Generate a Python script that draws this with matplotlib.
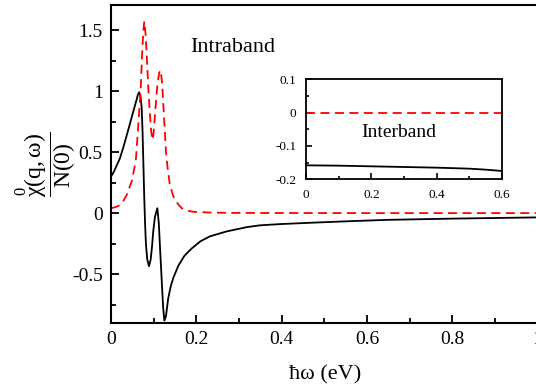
import numpy as np
import matplotlib.pyplot as plt
from matplotlib.ticker import MultipleLocator

# serif font everywhere, mathtext kept upright
plt.rcParams['font.family'] = 'Liberation Serif'
plt.rcParams['mathtext.fontset'] = 'custom'
plt.rcParams['mathtext.rm'] = 'Liberation Serif'
plt.rcParams['mathtext.it'] = 'Liberation Serif'
plt.rcParams['mathtext.bf'] = 'Liberation Serif'

re_w = [0.0, 0.007, 0.0133, 0.021, 0.029, 0.037, 0.045, 0.052, 0.060, 0.063,
        0.066, 0.069, 0.072, 0.074, 0.076, 0.078, 0.080, 0.082, 0.085, 0.089,
        0.093, 0.096, 0.099, 0.103, 0.1086, 0.112, 0.115, 0.119, 0.122, 0.125,
        0.129, 0.134, 0.140, 0.146, 0.158, 0.172, 0.189, 0.21, 0.232, 0.271,
        0.318, 0.349, 0.396, 0.474, 0.56, 0.65, 0.8, 1.0]
re_chi = [0.30, 0.34, 0.39, 0.45, 0.54, 0.64, 0.74, 0.83, 0.93, 0.97,
          0.99, 0.96, 0.86, 0.66, 0.39, 0.12, -0.10, -0.26, -0.38, -0.435,
          -0.38, -0.28, -0.15, -0.03, 0.04, -0.08, -0.29, -0.56, -0.76, -0.88,
          -0.84, -0.70, -0.60, -0.53, -0.43, -0.35, -0.29, -0.23, -0.19, -0.15,
          -0.115, -0.10, -0.09, -0.078, -0.066, -0.055, -0.045, -0.035]

# intraband, imaginary part (red dashed)
im_w = [0.0, 0.011, 0.021, 0.029, 0.037, 0.0485, 0.056, 0.0586, 0.064, 0.0696,
        0.0735, 0.076, 0.078, 0.081, 0.0837, 0.0875, 0.0914, 0.0945, 0.0977, 0.100,
        0.103, 0.1086, 0.113, 0.1165, 0.120, 0.1227, 0.126, 0.129, 0.132, 0.138,
        0.146, 0.15, 0.158, 0.166, 0.18, 0.193, 0.23, 0.27, 0.4, 0.6, 0.8, 1.0]
im_chi = [0.04, 0.05, 0.065, 0.10, 0.15, 0.26, 0.39, 0.45, 0.72, 1.02,
          1.35, 1.50, 1.57, 1.47, 1.30, 1.02, 0.80, 0.66, 0.60, 0.66,
          0.80, 1.05, 1.15, 1.17, 1.06, 0.89, 0.68, 0.50, 0.39, 0.23,
          0.14, 0.11, 0.07, 0.04, 0.02, 0.011, 0.005, 0.002, 0.001, 0.0, 0.0, 0.0]

# interband (inset)
inter_w = [0.0, 0.1, 0.2, 0.3, 0.4, 0.5, 0.55, 0.6]
inter_re = [-0.158, -0.159, -0.161, -0.163, -0.165, -0.168, -0.171, -0.175]
inter_im = [0.0, 0.0, 0.0, 0.0, 0.0, 0.0, 0.0, 0.0]

fig = plt.figure(figsize=(5.36, 3.84), dpi=100)
ax = fig.add_axes([0.2071, 0.1589, 0.7959, 0.8281])

ax.plot(re_w, re_chi, color='black', lw=1.3)
ax.plot(im_w, im_chi, color='red', lw=1.3, ls=(0, (5, 3)))

ax.set_xlim(0, 1)
ax.set_ylim(-0.9, 1.705)
ax.xaxis.set_major_locator(MultipleLocator(0.2))
ax.xaxis.set_minor_locator(MultipleLocator(0.1))
ax.yaxis.set_major_locator(MultipleLocator(0.5))
ax.yaxis.set_minor_locator(MultipleLocator(0.25))
ax.tick_params(which='both', direction='in', width=1.3, labelsize=14)
ax.tick_params(which='major', length=6)
ax.tick_params(which='minor', length=3.5)
ax.tick_params(axis='x', pad=6)
ax.tick_params(axis='y', pad=6)
for s in ax.spines.values():
    s.set_linewidth(1.5)

ax.xaxis.set_major_formatter(plt.FuncFormatter(lambda v, p: '%g' % round(v, 2)))
ax.yaxis.set_major_formatter(plt.FuncFormatter(lambda v, p: '%g' % round(v, 2)))

ax.set_xlabel('ħω (eV)', fontsize=16)
ax.xaxis.set_label_coords(0.501, -0.132)
ax.set_ylabel(r'$\dfrac{\overset{0}{\chi}\mathrm{(q,\omega)}}{\mathrm{N(0)}}$',
              fontsize=17, va='center')
ax.yaxis.set_label_coords(-0.151, 0.5)

ax.text(0.185, 1.32, 'Intraband', fontsize=16, va='baseline', ha='left')

# inset with the interband part
ins = fig.add_axes([0.571, 0.533, 0.3657, 0.2605])
ins.plot(inter_w, inter_re, color='black', lw=1.3)
ins.plot(inter_w, inter_im, color='red', lw=1.3, ls=(0, (5, 3)))
ins.set_xlim(0, 0.6)
ins.set_ylim(-0.2, 0.1)
ins.xaxis.set_major_locator(MultipleLocator(0.2))
ins.xaxis.set_minor_locator(MultipleLocator(0.1))
ins.yaxis.set_major_locator(MultipleLocator(0.1))
ins.yaxis.set_minor_locator(MultipleLocator(0.05))
ins.tick_params(which='both', direction='in', width=1.2, labelsize=9.5)
ins.tick_params(which='major', length=4)
ins.tick_params(which='minor', length=2.5)
ins.tick_params(axis='both', pad=7)
for s in ins.spines.values():
    s.set_linewidth(1.3)
ins.xaxis.set_major_formatter(plt.FuncFormatter(lambda v, p: '%g' % round(v, 2)))
ins.yaxis.set_major_formatter(plt.FuncFormatter(lambda v, p: '%g' % round(v, 2)))
ins.text(0.17, -0.072, 'Interband', fontsize=14, va='baseline', ha='left')

fig.savefig('out.png', dpi=100)
